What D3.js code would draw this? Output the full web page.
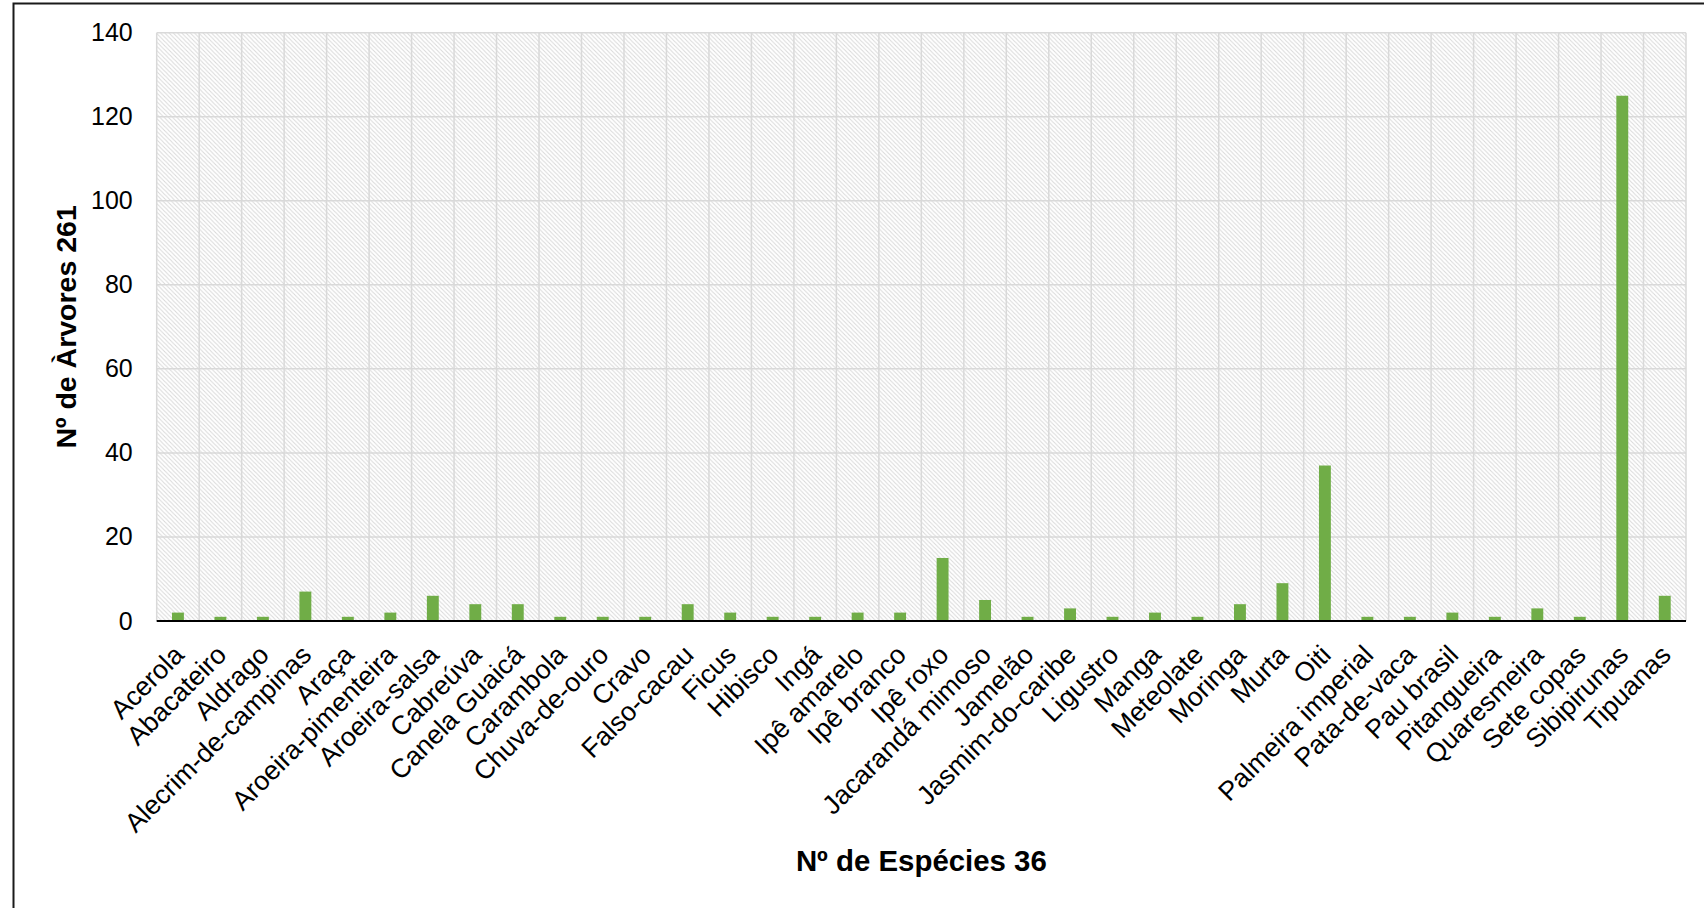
<!DOCTYPE html>
<html>
<head>
<meta charset="utf-8">
<script src="https://cdn.jsdelivr.net/npm/d3@7"></script>
<style>
  html, body { margin: 0; padding: 0; background: #fff; }
  svg { display: block; font-family: "Liberation Sans", Arial, sans-serif; }
</style>
</head>
<body>
<svg id="chart" width="1704" height="908"></svg>
<script>
// Species names (x categories)
const species = [
  "Acerola", "Abacateiro", "Aldrago", "Alecrim-de-campinas", "Araça",
  "Aroeira-pimenteira", "Aroeira-salsa", "Cabreúva", "Canela Guaicá", "Carambola",
  "Chuva-de-ouro", "Cravo", "Falso-cacau", "Ficus", "Hibisco", "Ingá",
  "Ipê amarelo", "Ipê branco", "Ipê roxo", "Jacarandá mimoso", "Jamelão",
  "Jasmim-do-caribe", "Ligustro", "Manga", "Meteolate", "Moringa", "Murta",
  "Oiti", "Palmeira imperial", "Pata-de-vaca", "Pau brasil", "Pitangueira",
  "Quaresmeira", "Sete copas", "Sibipirunas", "Tipuanas"
];

// Number of trees per species
const treeCounts = [
  2, 1, 1, 7, 1,
  2, 6, 4, 4, 1,
  1, 1, 4, 2, 1, 1,
  2, 2, 15, 5, 1,
  3, 1, 2, 1, 4, 9,
  37, 1, 1, 2, 1,
  3, 1, 125, 6
];

// Y axis ticks
const yTicks = [0, 20, 40, 60, 80, 100, 120, 140];

const yTitle = "Nº de Àrvores 261";
const xTitle = "Nº de Espécies 36";

const svg = d3.select("#chart");
const W = 1704, H = 908;
const plot = { left: 156.7, right: 1686, top: 32.7, bottom: 621 };

svg.append("rect").attr("width", W).attr("height", H).attr("fill", "#fff");

// Outer frame
svg.append("rect")
  .attr("x", 13.5).attr("y", 3.5)
  .attr("width", W + 20).attr("height", H + 20)
  .attr("fill", "none").attr("stroke", "#1a1a1a").attr("stroke-width", 2);

// Diagonal hatch fill for the plot area
const defs = svg.append("defs");
const pat = defs.append("pattern")
  .attr("id", "hatch")
  .attr("patternUnits", "userSpaceOnUse")
  .attr("width", 4.25).attr("height", 4.25);
pat.append("rect").attr("width", 4.25).attr("height", 4.25).attr("fill", "#fff");
pat.append("path")
  .attr("d", "M-1,-1 L5.25,5.25 M-1,3.25 L1,5.25 M3.25,-1 L5.25,1")
  .attr("stroke", "#d9d9d9").attr("stroke-width", 1);

const x = d3.scaleBand()
  .domain(species)
  .range([plot.left, plot.right])
  .padding(0);

const y = d3.scaleLinear()
  .domain([0, 140])
  .range([plot.bottom, plot.top]);

svg.append("rect")
  .attr("x", plot.left).attr("y", plot.top)
  .attr("width", plot.right - plot.left)
  .attr("height", plot.bottom - plot.top)
  .attr("fill", "url(#hatch)");

// Horizontal gridlines
svg.append("g")
  .selectAll("line")
  .data(yTicks.filter(d => d > 0))
  .join("line")
  .attr("x1", plot.left).attr("x2", plot.right)
  .attr("y1", d => y(d)).attr("y2", d => y(d))
  .attr("stroke", "#d9d9d9").attr("stroke-width", 1.5);

// Vertical gridlines at category boundaries
const bounds = species.map(s => x(s)).concat([x(species[species.length - 1]) + x.step()]);
svg.append("g")
  .selectAll("line")
  .data(bounds)
  .join("line")
  .attr("x1", d => d).attr("x2", d => d)
  .attr("y1", plot.top).attr("y2", plot.bottom)
  .attr("stroke", "#d9d9d9").attr("stroke-width", 1.5);

// Bars
const barW = x.bandwidth() * 0.28;
svg.append("g")
  .selectAll("rect")
  .data(species.map((s, i) => ({ s, v: treeCounts[i] })))
  .join("rect")
  .attr("x", d => x(d.s) + x.bandwidth() / 2 - barW / 2)
  .attr("width", barW)
  .attr("y", d => y(d.v))
  .attr("height", d => y(0) - y(d.v))
  .attr("fill", "#70ad47");

// Baseline
svg.append("line")
  .attr("x1", plot.left).attr("x2", plot.right)
  .attr("y1", y(0)).attr("y2", y(0))
  .attr("stroke", "#000").attr("stroke-width", 1.8);

// Y axis tick labels
const yAxis = d3.axisLeft(y).tickValues(yTicks).tickSize(0).tickPadding(24);
const gy = svg.append("g").attr("transform", `translate(${plot.left},0)`).call(yAxis);
gy.select(".domain").remove();
gy.selectAll("text")
  .attr("font-size", 25)
  .attr("font-family", "Liberation Sans, Arial, sans-serif")
  .attr("fill", "#000");

// X axis category labels, rotated
svg.append("g")
  .selectAll("text")
  .data(species)
  .join("text")
  .attr("transform", d => `translate(${x(d) + x.bandwidth() / 2 + 1},650) rotate(-45)`)
  .attr("text-anchor", "end")
  .attr("dy", "0.35em")
  .attr("font-size", 26.7)
  .attr("fill", "#000")
  .text(d => d);

// Axis titles
svg.append("text")
  .attr("transform", `translate(76,${(plot.top + plot.bottom) / 2}) rotate(-90)`)
  .attr("text-anchor", "middle")
  .attr("font-size", 28.5)
  .attr("font-weight", "bold")
  .attr("fill", "#000")
  .text(yTitle);

svg.append("text")
  .attr("x", (plot.left + plot.right) / 2)
  .attr("y", 871)
  .attr("text-anchor", "middle")
  .attr("font-size", 29.4)
  .attr("font-weight", "bold")
  .attr("fill", "#000")
  .text(xTitle);
</script>
</body>
</html>
